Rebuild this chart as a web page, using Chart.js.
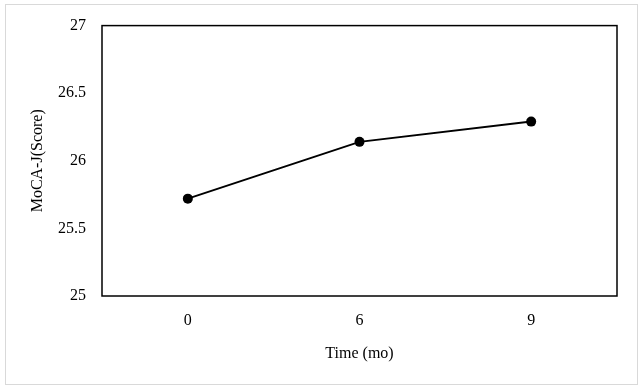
<!DOCTYPE html>
<html>
<head>
<meta charset="utf-8">
<script src="https://cdn.jsdelivr.net/npm/chart.js@4"></script>
<style>
  body { margin: 0; background: #fff; }
  #wrap { position: relative; width: 643px; height: 389px; }
  #frame { position: absolute; left: 5px; top: 4px; width: 631px; height: 379px; border: 1px solid #d9d9d9; pointer-events: none; }
</style>
</head>
<body>
<div id="wrap">
  <canvas id="chart" width="643" height="389"></canvas>
  <div id="frame"></div>
</div>
<script>
// --- data ---
const months = ['0', '6', '9'];
const mocaScores = [25.72, 26.14, 26.29];
const yTicks = [25, 25.5, 26, 26.5, 27];

const serif = "'Liberation Serif', 'Times New Roman', serif";

// black box around the plot area
const plotBorder = {
    id: 'plotBorder',
    afterDraw(chart) {
        const { ctx, chartArea: a } = chart;
        ctx.save();
        ctx.strokeStyle = '#000';
        ctx.lineWidth = 1.5;
        ctx.strokeRect(a.left, a.top, a.right - a.left, a.bottom - a.top);
        ctx.restore();
    }
};

new Chart(document.getElementById('chart'), {
    type: 'line',
    data: {
        labels: months,
        datasets: [{
            data: mocaScores,
            borderColor: '#000',
            backgroundColor: '#000',
            borderWidth: 2,
            pointRadius: 5,
            pointBackgroundColor: '#000',
            pointBorderWidth: 0,
            tension: 0
        }]
    },
    options: {
        responsive: false,
        animation: false,
        layout: { padding: { top: 23, right: 26, bottom: 0, left: 0 } },
        plugins: { legend: { display: false }, tooltip: { enabled: false } },
        scales: {
            x: {
                offset: true,
                grid: { display: false, drawTicks: false },
                border: { display: false },
                ticks: { color: '#000', padding: 15, font: { family: serif, size: 16 } },
                title: {
                    display: true, text: 'Time (mo)', color: '#000',
                    font: { family: serif, size: 16 }, padding: { top: 0, bottom: 26 }
                },
                afterFit(scale) { scale.height = 93; }
            },
            y: {
                min: 25, max: 27,
                afterBuildTicks(scale) { scale.ticks = yTicks.map(v => ({ value: v })); },
                grid: { display: false, drawTicks: false },
                border: { display: false },
                ticks: {
                    color: '#000', padding: 16, font: { family: serif, size: 16 },
                    callback: v => String(v)
                },
                title: {
                    display: true, text: 'MoCA-J(Score)', color: '#000',
                    font: { family: serif, size: 16 }, padding: { top: 28, bottom: 0 }
                },
                afterFit(scale) { scale.width = 102; }
            }
        }
    },
    plugins: [plotBorder]
});
</script>
</body>
</html>
